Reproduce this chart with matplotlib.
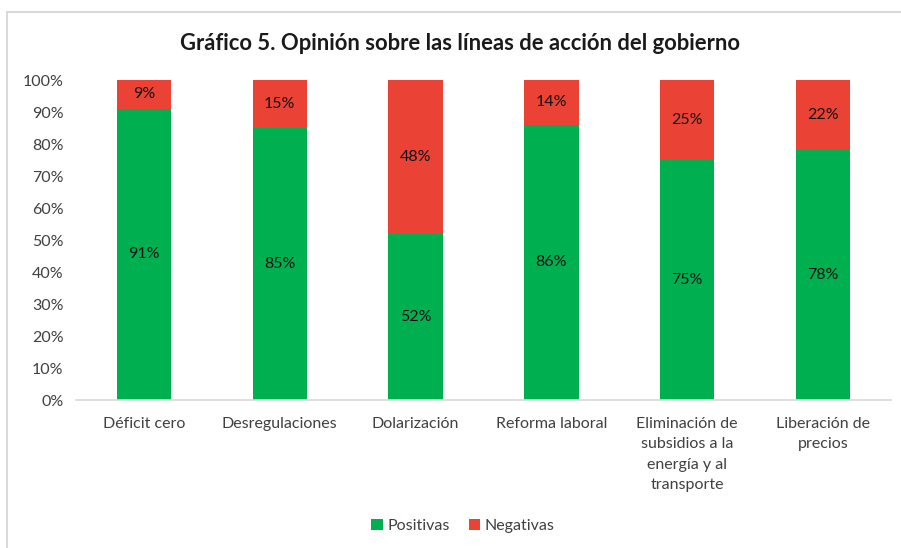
import matplotlib
matplotlib.use("Agg")
import matplotlib.pyplot as plt
from matplotlib.patches import Rectangle
import numpy as np

plt.rcParams['font.family'] = ['Lato', 'DejaVu Sans']

categories = ["Déficit cero", "Desregulaciones", "Dolarización", "Reforma laboral",
              "Eliminación de\nsubsidios a la\nenergía y al\ntransporte", "Liberación de\nprecios"]
positivas = [91, 85, 52, 86, 75, 78]
negativas = [9, 15, 48, 14, 25, 22]
yticks = [0, 10, 20, 30, 40, 50, 60, 70, 80, 90, 100]

green = "#00B050"
red = "#EA4335"

fig = plt.figure(figsize=(9.01, 5.48), dpi=100)
W, H = 901, 548
ax = fig.add_axes([76 / W, 1 - 400 / H, (891 - 76) / W, 320 / H])

x = np.arange(len(categories))
pos = np.array(positivas)
neg = np.array(negativas)
ax.bar(x, pos, width=0.4, color=green, label="Positivas")
ax.bar(x, neg, width=0.4, bottom=pos, color=red, label="Negativas")

for i in range(len(x)):
    ax.text(x[i], pos[i] / 2, f"{pos[i]}%", ha="center", va="center", fontsize=11.5, color="#111111")
    ax.text(x[i], pos[i] + neg[i] / 2, f"{neg[i]}%", ha="center", va="center", fontsize=11.5, color="#111111")

ax.set_xlim(-0.5, len(categories) - 0.5)
ax.set_ylim(0, 100)
ax.set_yticks(yticks)
ax.set_yticklabels([f"{t}%" for t in yticks], fontsize=11.5, color="#404040")
ax.set_xticks(x)
ax.set_xticklabels(categories, fontsize=11.5, color="#404040", linespacing=1.6)
ax.tick_params(axis="both", length=0)
ax.tick_params(axis="y", pad=9)
ax.tick_params(axis="x", pad=12)
for s in ["top", "right", "left"]:
    ax.spines[s].set_visible(False)
ax.spines["bottom"].set_color("#D9D9D9")
ax.spines["bottom"].set_linewidth(1.2)

fig.text(460 / W, 1 - 44 / H, "Gráfico 5. Opinión sobre las líneas de acción del gobierno",
         ha="center", va="center", fontsize=15.8, fontweight="bold", color="#1a1a1a")

leg = fig.legend(handles=[ax.patches[0], ax.patches[len(x)]],
                 labels=["Positivas", "Negativas"], loc="center", bbox_to_anchor=(463 / W, 1 - 526 / H),
                 ncol=2, frameon=False, fontsize=11.5, handlelength=0.7, handleheight=0.7,
                 handletextpad=0.3, columnspacing=1.2)
for t in leg.get_texts():
    t.set_color("#404040")

fig.patches.append(Rectangle((7 / W, -0.1), 1.2, 1 - 12 / H + 0.1, transform=fig.transFigure,
                             fill=False, edgecolor="#D9D9D9", linewidth=1.5))

fig.savefig("out.png", dpi=100)
